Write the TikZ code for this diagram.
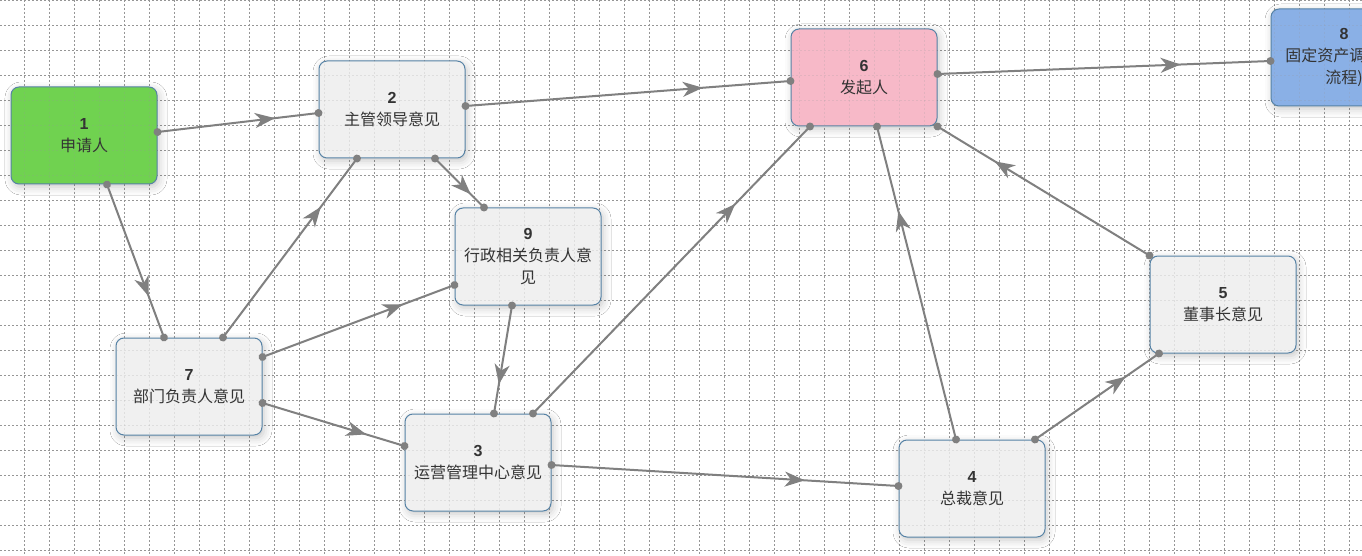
\documentclass[tikz,border=0pt]{standalone}
\usepackage{fontspec}
\setmainfont{Liberation Sans}
\newfontfamily\cjk{Noto Sans CJK SC}
\usetikzlibrary{arrows.meta,decorations.markings,shadows.blur,calc}
\definecolor{greenfill}{RGB}{112,210,80}
\definecolor{pinkfill}{RGB}{247,185,200}
\definecolor{bluefill}{RGB}{138,176,230}
\definecolor{grayfill}{RGB}{240,240,240}
\definecolor{nodeborder}{RGB}{86,130,165}
\definecolor{linecol}{RGB}{128,128,128}
\definecolor{gridcol}{RGB}{150,150,150}
\definecolor{textcol}{RGB}{51,51,51}
\begin{document}
\begin{tikzpicture}[x=1pt,y=-1pt,
 box/.style={draw=nodeborder, line width=1pt, rounded corners=8pt, minimum width=146pt, minimum height=97pt, inner sep=0pt, align=center, text=textcol, font=\fontsize{16}{22}\selectfont, blur shadow={shadow xshift=2pt, shadow yshift=-3pt, shadow blur radius=8pt, shadow opacity=22}},
 flow/.style={draw=linecol, line width=2pt, postaction={decorate}, decoration={markings,
   mark=at position 0 with {\fill[linecol] (0,0) circle (4pt);},
   mark=at position 0.73 with {\arrow[linecol]{Stealth[length=20pt,width=15pt,inset=6pt]}},
   mark=at position 1 with {\fill[linecol] (0,0) circle (4pt);}}},
 gridln/.style={draw=gridcol, line width=1pt, dash pattern=on 2pt off 2pt}]
\useasboundingbox (0,0) rectangle (1362,556);
\clip (0,0) rectangle (1362,556);
\fill[white] (0,0) rectangle (1362,556);
\shade[top color=white, middle color=black!9, bottom color=white] (0,0) rectangle (570,18);
\foreach \x in {24.5,49.5,...,1360} \draw[gridln] (\x,0) -- (\x,556);
\foreach \y in {0.5,25.5,...,555} \draw[gridln] (0,\y) -- (1362,\y);

\node[box, fill=greenfill] (n1) at (84,135.5) {{\bfseries 1}\\{\cjk 申请人}};
\node[box, fill=grayfill] (n2) at (392,109.5) {{\bfseries 2}\\{\cjk 主管领导意见}};
\node[box, fill=grayfill] (n9) at (528,256.5) {{\bfseries 9}\\{\cjk 行政相关负责人意}\\{\cjk 见}};
\node[box, fill=grayfill] (n7) at (189,386.5) {{\bfseries 7}\\{\cjk 部门负责人意见}};
\node[box, fill=grayfill] (n3) at (478,462.5) {{\bfseries 3}\\{\cjk 运营管理中心意见}};
\node[box, fill=grayfill] (n4) at (972,488.5) {{\bfseries 4}\\{\cjk 总裁意见}};
\node[box, fill=grayfill] (n5) at (1223,304.5) {{\bfseries 5}\\{\cjk 董事长意见}};
\node[box, fill=pinkfill] (n6) at (864,77.5) {{\bfseries 6}\\{\cjk 发起人}};
\node[box, fill=bluefill] (n8) at (1344,57.5) {{\bfseries 8}\\{\cjk 固定资产调拨(子}\\{\cjk 流程)}};

% faint grid showing through the boxes
\begin{scope}[opacity=0.2]
\foreach \x in {24.5,49.5,...,1360} \draw[gridln] (\x,0) -- (\x,556);
\foreach \y in {0.5,25.5,...,555} \draw[gridln] (0,\y) -- (1362,\y);
\end{scope}

\draw[flow] ([yshift=3.5pt]n1.east) -- ([yshift=-3.5pt]n2.west);
\draw[flow] ([xshift=23pt]n1.south) -- ([xshift=-25pt]n7.north);
\draw[flow] ([yshift=3.5pt]n2.east) -- ([yshift=-3.5pt]n6.west);
\draw[flow] ([yshift=3.5pt]n6.east) -- ([yshift=-3.5pt]n8.west);
\draw[flow] ([xshift=43pt]n2.south) -- ([xshift=-44pt]n9.north);
\draw[flow] ([xshift=34pt]n7.north) -- ([xshift=-35pt]n2.south);
\draw[flow] ([yshift=29.5pt]n7.east) -- ([yshift=-28.5pt]n9.west);
\draw[flow] ([yshift=-16.5pt]n7.east) -- ([yshift=16.5pt]n3.west);
\draw[flow] ([xshift=-16pt]n9.south) -- ([xshift=16pt]n3.north);
\draw[flow] ([xshift=55pt]n3.north) -- ([xshift=-54pt]n6.south);
\draw[flow] ([yshift=-2.5pt]n3.east) -- ([yshift=2.5pt]n4.west);
\draw[flow] ([xshift=-16pt]n4.north) -- ([xshift=13pt]n6.south);
\draw[flow] ([xshift=63pt]n4.north) -- ([xshift=-64pt]n5.south);
\draw[flow] (n5.north west) -- (n6.south east);
\end{tikzpicture}
\end{document}
